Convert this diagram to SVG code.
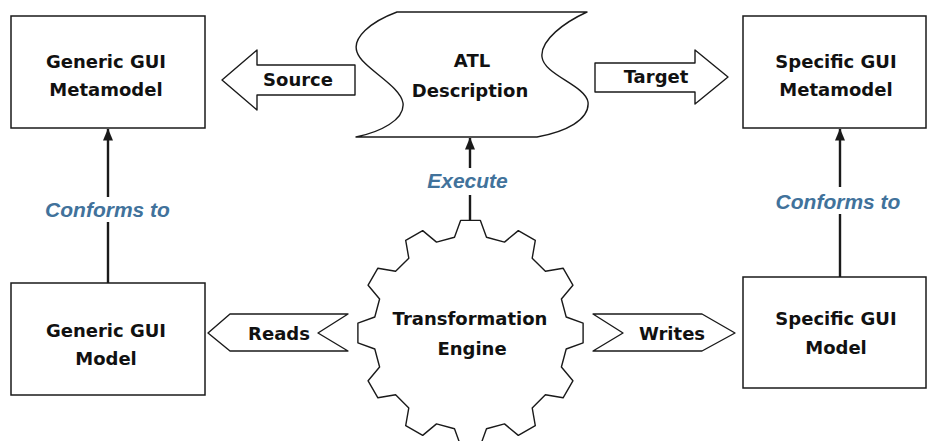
<svg xmlns="http://www.w3.org/2000/svg" width="927" height="441" viewBox="0 0 927 441">
<defs>
<style>
.box{fill:#fff;stroke:#1a1a1a;stroke-width:1.5}
.shape{fill:#fff;stroke:#1a1a1a;stroke-width:1.4;stroke-linejoin:round}
.t{font-family:"DejaVu Sans",sans-serif;font-weight:bold;font-size:18px;fill:#111;text-anchor:middle}
.lbl{font-family:"Liberation Sans",Arial,sans-serif;font-weight:bold;font-style:italic;font-size:21px;fill:#41729b;text-anchor:middle}
.ln{fill:none;stroke:#1a1a1a;stroke-width:2.4}
</style>
<marker id="ah" viewBox="0 0 12 10" refX="11.5" refY="5" markerWidth="12" markerHeight="10" markerUnits="userSpaceOnUse" orient="auto">
<path d="M0,0 L12,5 L0,10 z" fill="#1a1a1a"/>
</marker>
</defs>
<rect width="927" height="441" fill="#fff"/>

<g id="connectors">
<g id="conn-conforms-generic">
<path class="ln" d="M108,283 V222 M108,197 V129" marker-end="url(#ah)"/>
<text class="lbl" x="107.5" y="217">Conforms to</text>
</g>
<g id="conn-conforms-specific">
<path class="ln" d="M840,277 V214 M840,187 V129" marker-end="url(#ah)"/>
<text class="lbl" x="838" y="209">Conforms to</text>
</g>
<g id="conn-execute">
<path class="ln" d="M470,220 V195 M470,168 V138" marker-end="url(#ah)"/>
<text class="lbl" x="467.5" y="188">Execute</text>
</g>
<g id="conn-source">
<path class="shape" d="M222,80 L257,50 L257,65 L355,65 L355,95 L257,95 L257,110 Z"/>
<text class="t" x="298" y="86">Source</text>
</g>
<g id="conn-target">
<path class="shape" d="M595,63 L695,63 L695,50 L728,77 L695,104 L695,92 L595,92 Z"/>
<text class="t" x="656" y="83">Target</text>
</g>
<g id="conn-reads">
<path class="shape" d="M208,333 L230,314 L348,314 L318,333 L348,351 L230,351 Z"/>
<text class="t" x="279" y="340">Reads</text>
</g>
<g id="conn-writes">
<path class="shape" d="M593,314 L702,314 L735,333 L702,351 L593,351 L623,333 Z"/>
<text class="t" x="672" y="340">Writes</text>
</g>
</g>

<g id="generic-gui-metamodel">
<rect class="box" x="11" y="16" width="194" height="112"/>
<text class="t" x="106" y="68">Generic GUI</text>
<text class="t" x="106" y="96">Metamodel</text>
</g>

<g id="specific-gui-metamodel">
<rect class="box" x="743" y="16" width="183" height="112"/>
<text class="t" x="836" y="68">Specific GUI</text>
<text class="t" x="836" y="96">Metamodel</text>
</g>

<g id="atl-description">
<path class="shape" d="M397,12 L587,12 C565,22 540,40 542,57 C544,75 585,85 588,102 C590,120 565,132 537,137 L356,137 C380,132 405,120 403,103 C400,85 362,68 357,52 C352,38 370,22 397,12 Z"/>
<text class="t" x="472" y="67">ATL</text>
<text class="t" x="470" y="97">Description</text>
</g>

<g id="generic-gui-model">
<rect class="box" x="11" y="283" width="194" height="112"/>
<text class="t" x="106" y="337">Generic GUI</text>
<text class="t" x="106" y="365">Model</text>
</g>

<g id="specific-gui-model">
<rect class="box" x="743" y="277" width="183" height="111"/>
<text class="t" x="836" y="325">Specific GUI</text>
<text class="t" x="836" y="354">Model</text>
</g>

<g id="transformation-engine">
<path class="shape" d="M460.6,220.4 L480.4,220.4 L486.5,237.3 L504.5,242.1 L518.3,230.6 L535.3,240.4 L532.2,258.2 L545.4,271.3 L563.1,268.2 L572.9,285.2 L561.4,299 L566.2,317 L583.1,323.2 L583.1,342.8 L566.2,349 L561.4,367 L572.9,380.8 L563.1,397.8 L545.4,394.7 L532.2,407.9 L535.3,425.6 L518.3,435.4 L504.5,423.9 L486.5,428.7 L480.4,445.6 L460.6,445.6 L454.5,428.7 L436.5,423.9 L422.7,435.4 L405.7,425.6 L408.8,407.9 L395.6,394.7 L377.9,397.8 L368.1,380.8 L379.6,367 L374.8,349 L357.9,342.8 L357.9,323.2 L374.8,317 L379.6,299 L368.1,285.2 L377.9,268.2 L395.6,271.3 L408.8,258.2 L405.7,240.4 L422.7,230.6 L436.5,242.1 L454.5,237.3 Z"/>
<text class="t" x="470" y="325">Transformation</text>
<text class="t" x="472" y="355">Engine</text>
</g>
</svg>
